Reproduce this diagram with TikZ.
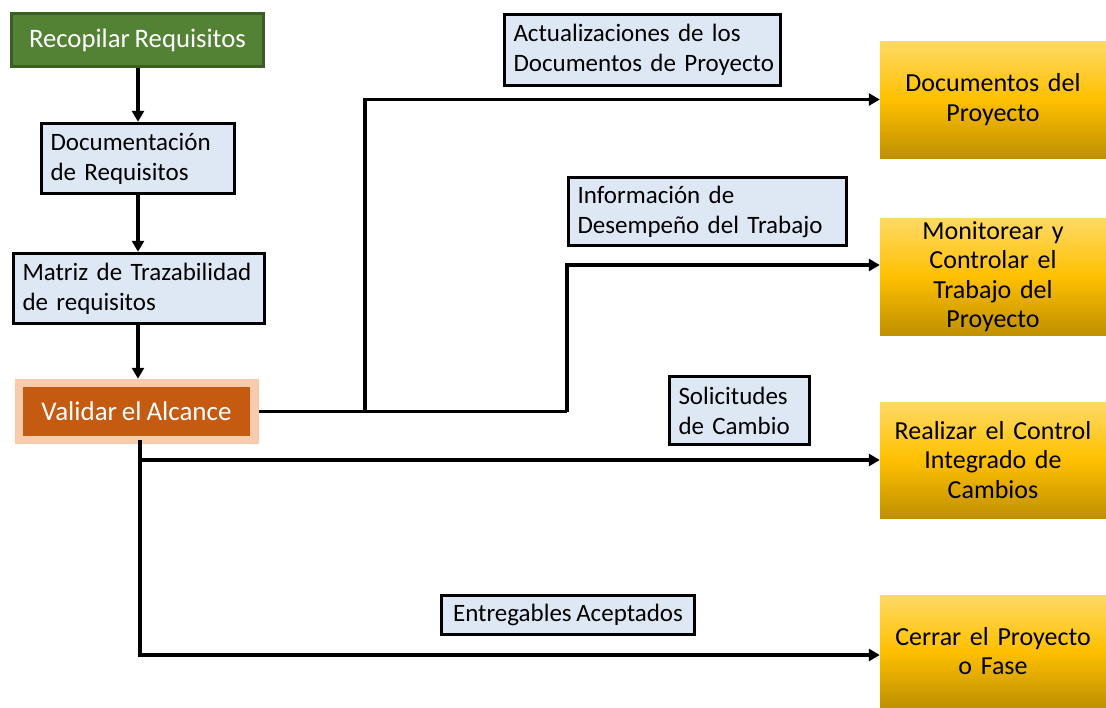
\documentclass[tikz,border=0pt]{standalone}
\usepackage{fontspec}
\setmainfont{Carlito}[WordSpace={0.8}]
\usetikzlibrary{arrows.meta,calc}
\definecolor{lblue}{HTML}{DEE8F5}
\definecolor{gfill}{HTML}{548235}
\definecolor{gborder}{HTML}{3B5E25}
\definecolor{ofill}{HTML}{C55A11}
\definecolor{peach}{HTML}{F8CBAD}
\definecolor{ytop}{HTML}{FFD966}
\definecolor{ymid}{HTML}{FFC000}
\definecolor{ybot}{HTML}{BF9000}
\newcommand\mb[1]{\mbox{#1}}
\begin{document}
\begin{tikzpicture}[x=1pt,y=-1pt,
  every node/.style={font=\fontsize{25}{30}\selectfont},
  lbl/.style={draw=black, line width=3.5pt, fill=lblue, align=left, inner xsep=9pt, inner ysep=0pt, anchor=center},
  ybox/.style={top color=ytop, bottom color=ybot, middle color=ymid, align=center, inner sep=0pt, minimum width=226pt, text width=220pt, anchor=center, font=\fontsize{26}{29.5}\selectfont},
  conn/.style={line width=3.5pt, -{Triangle[length=11pt,width=12pt]}},
  seg/.style={line width=3.5pt}
]
\useasboundingbox (0,0) rectangle (1106,707);

% left column
\node[draw=gborder, line width=3.5pt, fill=gfill, text=white, minimum width=252pt, minimum height=53pt, inner sep=0pt, font=\fontsize{26.7}{30}\selectfont] (recop) at (137.5,40) {Recopilar Requisitos};
\node[lbl, text width=175pt, minimum height=70pt] (docreq) at (138,158.5) {\mb{Documentación}\\\mb{de Requisitos}};
\node[lbl, text width=233pt, minimum height=70pt] (matriz) at (139,288.5) {\mb{Matriz de Trazabilidad}\\\mb{de requisitos}};
\node[draw=peach, line width=8.5pt, fill=ofill, text=white, minimum width=235.5pt, minimum height=57pt, inner sep=0pt, font=\fontsize{27}{30}\selectfont] (val) at (136.5,411.5) {Validar el Alcance};

% labels
\node[lbl, text width=258pt, minimum height=71pt] (act) at (642.5,50) {\mb{Actualizaciones de los}\\\mb{Documentos de Proyecto}};
\node[lbl, text width=260pt, minimum height=68pt] (info) at (707.5,211.5) {\mb{Información de}\\\mb{Desempeño del Trabajo}};
\node[lbl, text width=122pt, minimum height=68pt] (sol) at (739.5,410.5) {\mb{Solicitudes}\\\mb{de Cambio}};
\node[lbl, minimum width=253pt, minimum height=39pt, align=center] (ent) at (568,615) {\mb{Entregables Aceptados}};

% yellow targets
\node[ybox, minimum height=117pt] (docs) at (993,99.5) {\mb{Documentos del}\\\mb{Proyecto}};
\node[ybox, minimum height=117pt] (mon) at (993,276.5) {Monitorear y\\Controlar el\\Trabajo del\\Proyecto};
\node[ybox, minimum height=116pt] (ctrl) at (993,460) {\mb{Realizar el Control}\\Integrado de\\Cambios};
\node[ybox, minimum height=112pt] (cerrar) at (993,651) {\mb{Cerrar el Proyecto}\\o Fase};

% vertical chain
\draw[conn] (docreq.north |- recop.south) -- (docreq.north);
\draw[conn] (docreq.south) -- (docreq.south |- matriz.north);
\draw[conn] (docreq.south |- matriz.south) -- (docreq.south |- val.north);

% outputs
\coordinate (j1) at (365,411.5);
\coordinate (j2) at (567,411.5);
\draw[seg] (val.east) -- (j2);
\draw[conn] (j1) |- (docs.west);
\draw[conn] (j2) |- ([yshift=11.5pt]mon.west);
\coordinate (b0) at (140,440);
\coordinate (b1) at (140,460);
\draw[conn] (b0) |- ([yshift=-4pt]cerrar.west);
\draw[conn] (b1) -- (ctrl.west);
\end{tikzpicture}
\end{document}
